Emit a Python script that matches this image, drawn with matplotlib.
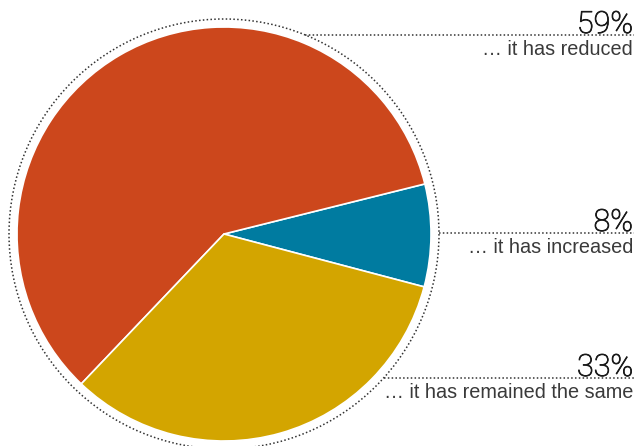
import numpy as np
import matplotlib
matplotlib.use("Agg")
import matplotlib.pyplot as plt
import matplotlib.patheffects as pe
from matplotlib.patches import Circle

# Survey answers
categories = ["… it has increased", "… it has reduced", "… it has remained the same"]
values = [8, 59, 33]
colors = ["#007BA0", "#CC471C", "#D3A500"]

W, H = 637, 446
fig = plt.figure(figsize=(W / 100, H / 100), dpi=100)
ax = fig.add_axes([0, 0, 1, 1])

cx, cy = 224, H - 234
r_pie = 207
r_ring = 215

ax.pie(values, colors=colors, center=(cx, cy), radius=r_pie,
       startangle=-14.8, counterclock=True,
       wedgeprops=dict(edgecolor="white", linewidth=1.2), frame=True)
ax.set_xlim(0, W)
ax.set_ylim(0, H)
ax.set_aspect("equal")
ax.axis("off")

ax.add_patch(Circle((cx, cy), r_ring, fill=False, edgecolor="#333333",
                    linestyle=(0, (1, 1.5)), linewidth=1.1))

# right-hand column: leader line height (from top) per answer
label_order = [1, 0, 2]
line_y_top = [35, 233, 378]
x_right = 634
for idx, ly in zip(label_order, line_y_top):
    y = H - ly
    dy = abs(y - cy)
    x0 = cx + np.sqrt(max(r_ring ** 2 - dy ** 2, 0))
    ax.plot([x0, x_right], [y, y], color="#333333", linestyle=(0, (1, 1.5)),
            linewidth=1.1)
    ax.text(x_right - 1, y + 2, f"{values[idx]}%", ha="right", va="baseline",
            fontsize=22, color="#1a1a1a", family="Roboto", fontweight="light",
            path_effects=[pe.withStroke(linewidth=0.6, foreground="#1a1a1a")])
    ax.text(x_right - 1, y - 20, categories[idx], ha="right", va="baseline",
            fontsize=14.3, color="#3a3a3a", family="Liberation Sans")

fig.savefig("out.png", dpi=100)
